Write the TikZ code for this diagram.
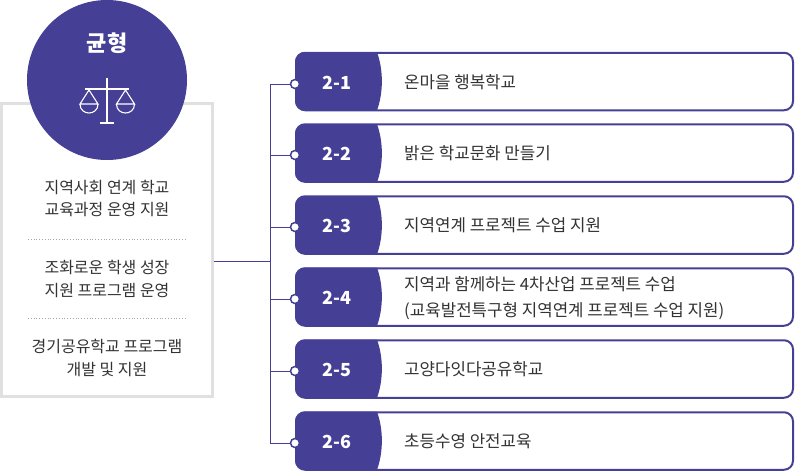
\documentclass[tikz,border=0pt]{standalone}
\usepackage{fontspec}
\setmainfont{Noto Sans CJK KR}
\definecolor{navy}{HTML}{453F96}
\definecolor{boxgray}{HTML}{E0E0E0}
\definecolor{bodytext}{HTML}{333333}
\tikzset{
  rowbox/.style={draw=navy, line width=2pt, rounded corners=9pt, fill=white, minimum width=497pt, minimum height=57.5pt, inner sep=0pt},
  rowtab/.pic={\fill[navy] (10,0) .. controls (4.5,0) and (0,4.5) .. (0,10) -- (0,48.5) .. controls (0,54) and (4.5,58.5) .. (10,58.5) -- (82,58.5) .. controls (88.5,40) and (88.5,18.5) .. (82,0) -- cycle;},
  rownum/.style={text=white, font=\fontsize{18}{18}\selectfont\bfseries},
  rowtext/.style={text=bodytext, anchor=west, font=\fontsize{16.8}{26}\selectfont, align=left, inner sep=0pt},
  boxtext/.style={text=bodytext, font=\fontsize{16}{22.5}\selectfont, align=center, inner sep=0pt},
  dotmark/.style={circle, draw=navy, line width=1.5pt, fill=white, minimum size=9pt, inner sep=0pt},
  link/.style={draw=navy, line width=0.8pt},
  sep/.style={draw=gray!70, line width=0.8pt, dotted},
  icon/.style={draw=white, line width=1.1pt}
}
\begin{document}
\begin{tikzpicture}[x=1pt, y=-1pt]
\useasboundingbox (0,0) rectangle (795,471);

\node [draw=boxgray, line width=3pt, fill=white, minimum width=210.5pt, minimum height=293pt, inner sep=0pt] (frame) at (106.75,250) {};
\node [circle, fill=navy, minimum size=160pt, inner sep=0pt] (head) at (107,80) {};
\node [text=white, font=\fontsize{22}{22}\selectfont\bfseries] (title) at (107,43) {균형};

% scale icon
\draw [icon] (107,78) -- (107,123);
\draw [icon] (100,123) -- (114,123);
\draw [icon] (85,89) -- (129,89);
\draw [icon] (89,90) -- (80,104) -- (98,104) -- cycle;
\draw [icon] (80,104) .. controls (80,116) and (98,116) .. (98,104);
\draw [icon] (125.5,90) -- (116.5,104) -- (134.5,104) -- cycle;
\draw [icon] (116.5,104) .. controls (116.5,116) and (134.5,116) .. (134.5,104);

\node [boxtext] (goal1) at (107,198.5) {지역사회 연계 학교\\교육과정 운영 지원};
\node [boxtext] (goal2) at (107,279) {조화로운 학생 성장\\지원 프로그램 운영};
\node [boxtext] (goal3) at (107,358) {경기공유학교 프로그램\\개발 및 지원};

\coordinate (s1a) at (28,239);
\coordinate (s1b) at (185,239);
\coordinate (s2a) at (28,318.5);
\coordinate (s2b) at (185,318.5);
\draw [sep] (s1a) -- (s1b);
\draw [sep] (s2a) -- (s2b);

\node [rowbox] (r1) at (544.5,81.5) {};
\node [rowbox] (r2) at (544.5,153) {};
\node [rowbox] (r3) at (544.5,225) {};
\node [rowbox] (r4) at (544.5,297) {};
\node [rowbox] (r5) at (544.5,369) {};
\node [rowbox] (r6) at (544.5,441) {};

\pic at (295,52) {rowtab};
\pic at (295,124) {rowtab};
\pic at (295,196) {rowtab};
\pic at (295,267.5) {rowtab};
\pic at (295,339.5) {rowtab};
\pic at (295,411.5) {rowtab};

\node [rownum] (n1) at (337,83) {2-1};
\node [rownum] (n2) at (337,154) {2-2};
\node [rownum] (n3) at (337,226) {2-3};
\node [rownum] (n4) at (337,298) {2-4};
\node [rownum] (n5) at (337,370) {2-5};
\node [rownum] (n6) at (337,442) {2-6};

\node [rowtext] (t1) at (404,82) {온마을 행복학교};
\node [rowtext] (t2) at (404,153) {밝은 학교문화 만들기};
\node [rowtext] (t3) at (404,225) {지역연계 프로젝트 수업 지원};
\node [rowtext] (t4) at (404,298) {지역과 함께하는 4차산업 프로젝트 수업\\(교육발전특구형 지역연계 프로젝트 수업 지원)};
\node [rowtext] (t5) at (404,369) {고양다잇다공유학교};
\node [rowtext] (t6) at (404,441) {초등수영 안전교육};

\node [dotmark] (d1) at (295,84) {};
\node [dotmark] (d2) at (295,155) {};
\node [dotmark] (d3) at (295,227) {};
\node [dotmark] (d4) at (295,299) {};
\node [dotmark] (d5) at (295,371) {};
\node [dotmark] (d6) at (295,443) {};

\coordinate (joint) at (270,261);
\draw [link] (frame.east |- joint) -- (joint);
\draw [link] (d1) -- (d1 -| joint) -- (d6 -| joint) -- (d6);
\draw [link] (d2) -- (d2 -| joint);
\draw [link] (d3) -- (d3 -| joint);
\draw [link] (d4) -- (d4 -| joint);
\draw [link] (d5) -- (d5 -| joint);

\end{tikzpicture}
\end{document}
